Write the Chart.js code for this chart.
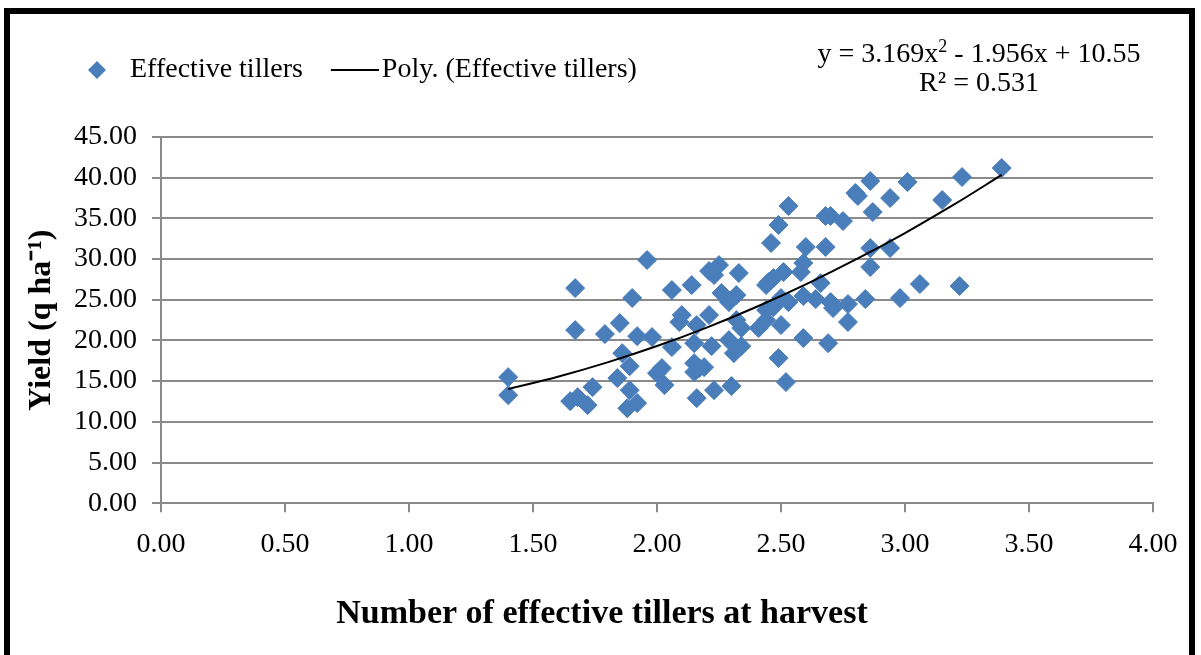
<!DOCTYPE html>
<html>
<head>
<meta charset="utf-8">
<script src="https://cdn.jsdelivr.net/npm/chart.js@4.4.1/dist/chart.umd.min.js"></script>
<style>
  body { margin: 0; background: #fff; overflow: hidden; }
  #wrap { position: relative; width: 1201px; height: 655px; }
  #frame { position: absolute; left: 4px; top: 8px; width: 1191px; height: 700px; border: 6px solid #000; box-sizing: border-box; }
  #eq { position: absolute; left: 779px; top: 38px; width: 400px; text-align: center;
        font: 28px 'Liberation Serif', 'Times New Roman', serif; line-height: 29px; color: #000; }
  #eq sup { font-size: 18px; line-height: 0; vertical-align: 10px; }
  canvas { position: absolute; left: 0; top: 0; }
</style>
</head>
<body>
<div id="wrap">
  <div id="frame"></div>
  <canvas id="myChart" width="1201" height="655"></canvas>
  <div id="eq">y = 3.169x<sup>2</sup> - 1.956x + 10.55<br>R² = 0.531</div>
</div>
<script>
// effective tillers (x) and yield q/ha (y)
const tillers = [1.40, 1.40, 1.65, 1.68, 1.72, 1.74, 1.67, 1.67, 1.79, 1.85,
  1.86, 1.89, 1.84, 1.89, 1.88, 1.92, 1.90, 1.92, 1.96, 1.98,
  2.00, 2.02, 2.03, 2.06, 2.06, 2.09, 2.10, 2.14, 2.15, 2.16,
  2.15, 2.17, 2.19, 2.15, 2.16, 2.23, 2.21, 2.25, 2.23, 2.21,
  2.22, 2.26, 2.29, 2.32, 2.33, 2.32, 2.34, 2.29, 2.34, 2.31,
  2.30, 2.41, 2.44, 2.47, 2.50, 2.44, 2.44, 2.47, 2.51, 2.45,
  2.50, 2.53, 2.49, 2.52, 2.46, 2.49, 2.53, 2.59, 2.58, 2.60,
  2.59, 2.59, 2.64, 2.66, 2.68, 2.70, 2.75, 2.68, 2.69, 2.70,
  2.71, 2.77, 2.77, 2.80, 2.81, 2.84, 2.86, 2.86, 2.86, 2.87,
  2.94, 2.94, 2.98, 3.01, 3.06, 3.15, 3.23, 3.22, 3.39];
const yieldVals = [15.49, 13.28, 12.54, 13.03, 12.05, 14.26, 26.43, 21.27, 20.78, 22.13,
  18.44, 16.84, 15.37, 13.89, 11.68, 12.30, 25.21, 20.53, 29.88, 20.41,
  15.98, 16.60, 14.51, 26.19, 19.18, 22.26, 23.12, 26.80, 19.67, 21.89,
  17.21, 16.60, 16.72, 16.11, 12.91, 13.89, 28.53, 29.26, 28.03, 23.12,
  19.30, 25.82, 24.71, 25.57, 28.28, 22.50, 21.52, 20.04, 19.30, 18.44,
  14.39, 21.52, 23.73, 24.10, 21.89, 22.50, 26.80, 27.67, 28.40, 27.17,
  25.21, 24.71, 17.83, 14.88, 31.97, 34.18, 36.52, 29.51, 28.40, 31.48,
  25.45, 20.29, 25.08, 27.05, 35.29, 35.29, 34.67, 31.48, 19.67, 24.71,
  23.98, 24.47, 22.26, 38.12, 37.75, 25.08, 39.59, 31.35, 29.02, 35.78,
  37.50, 31.35, 25.21, 39.47, 26.93, 37.26, 40.08, 26.68, 41.19];

// polynomial trend line as drawn in the picture
const trendX = [1.40, 1.60, 1.80, 2.00, 2.20, 2.40, 2.60, 2.80, 3.00, 3.20, 3.39];
const trendY = [14.02, 15.53, 17.30, 19.31, 21.58, 24.11, 26.89, 29.92, 33.20, 36.74, 40.34];

const blue = '#4a7ebb';
const grey = '#8a8a8a';
const serif = "'Liberation Serif', 'Times New Roman', serif";

// legend icons
const diamondIcon = document.createElement('canvas');
diamondIcon.width = 20; diamondIcon.height = 20;
let g = diamondIcon.getContext('2d');
g.fillStyle = blue;
g.beginPath(); g.moveTo(10, 1); g.lineTo(19, 10); g.lineTo(10, 19); g.lineTo(1, 10); g.closePath(); g.fill();

const lineIcon = document.createElement('canvas');
lineIcon.width = 60; lineIcon.height = 4;
g = lineIcon.getContext('2d');
g.fillStyle = '#000';
g.fillRect(12, 1, 48, 2);

const legendGap = {
  id: 'legendGap',
  beforeLayout(chart) {
    const lg = chart.legend;
    if (lg && !lg._gapDone) {
      const fit = lg.fit;
      lg.fit = function () { fit.call(this); this.height += 43; };
      lg._gapDone = true;
    }
  }
};

const ctx = document.getElementById('myChart');
new Chart(ctx, {
  type: 'scatter',
  data: {
    datasets: [{
      label: 'Effective tillers',
      data: tillers.map((x, i) => ({ x: x, y: yieldVals[i] })),
      backgroundColor: blue,
      borderColor: blue,
      borderWidth: 1,
      pointStyle: 'rectRot',
      pointRadius: 9.5,
      order: 1
    }, {
      label: 'Poly. (Effective tillers)',
      data: trendX.map((x, i) => ({ x: x, y: trendY[i] })),
      showLine: true,
      borderColor: '#000',
      borderWidth: 2,
      pointRadius: 0,
      tension: 0.4,
      cubicInterpolationMode: 'monotone',
      order: 0
    }]
  },
  options: {
    responsive: false,
    animation: false,
    layout: { padding: { left: 51, top: 29, right: 48, bottom: 0 } },
    plugins: {
      tooltip: { enabled: false },
      legend: {
        position: 'top',
        align: 'start',
        labels: {
          usePointStyle: true,
          pointStyleWidth: 38,
          padding: 27,
          color: '#000',
          font: { family: serif, size: 28 },
          generateLabels(chart) {
            const items = Chart.defaults.plugins.legend.labels.generateLabels(chart);
            items.sort((a, b) => a.datasetIndex - b.datasetIndex);
            items.forEach(it => { it.pointStyle = it.datasetIndex === 0 ? diamondIcon : lineIcon; });
            return items;
          }
        }
      },
      title: {
        display: true,
        position: 'bottom',
        text: 'Number of effective tillers at harvest',
        color: '#000',
        font: { family: serif, size: 34, weight: 'bold' },
        padding: { top: 5, bottom: 20 }
      }
    },
    scales: {
      x: {
        type: 'linear',
        min: 0, max: 4,
        afterFit(scale) { scale.height = 86; },
        ticks: { stepSize: 0.5, padding: 16, color: '#000', font: { family: serif, size: 28 },
                 callback: v => v.toFixed(2) },
        grid: { drawOnChartArea: false, color: grey, lineWidth: 2, tickLength: 9 },
        border: { color: grey, width: 2 }
      },
      y: {
        min: 0, max: 45,
        afterFit(scale) { scale.width = 110; },
        ticks: { stepSize: 5, padding: 15, color: '#000', font: { family: serif, size: 28 },
                 callback: v => v.toFixed(2) },
        grid: { color: grey, lineWidth: 2, tickLength: 9 },
        border: { color: grey, width: 2 },
        title: {
          display: true,
          text: 'Yield (q ha⁻¹)',
          color: '#000',
          font: { family: serif, size: 32, weight: 'bold' },
          padding: { top: -28, bottom: 0 }
        }
      }
    }
  },
  plugins: [legendGap]
});
</script>
</body>
</html>
